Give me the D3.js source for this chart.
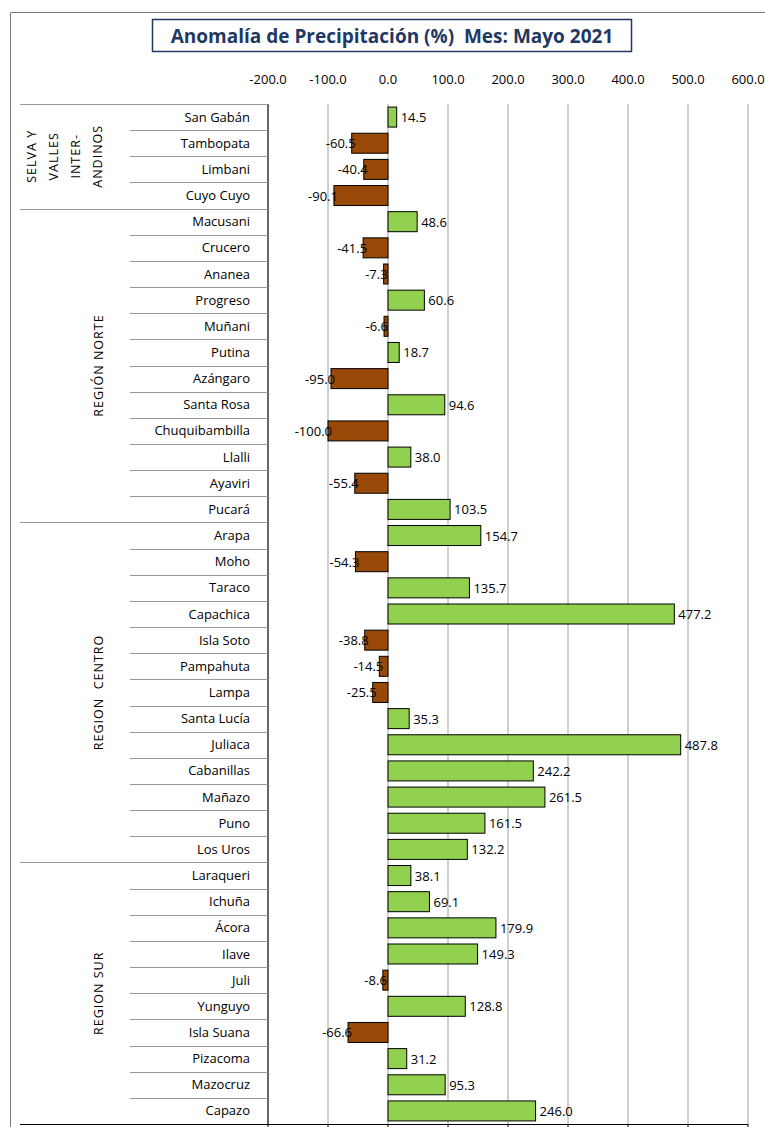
<!DOCTYPE html>
<html><head><meta charset="utf-8">
<script src="https://cdn.jsdelivr.net/npm/d3@7"></script>
<style>body{margin:0;background:#fff}</style>
</head><body>
<svg id="Viz"></svg>
<script>
width = 765, height = 1127;

stations = ["San Gabán","Tambopata","Limbani","Cuyo Cuyo","Macusani","Crucero","Ananea","Progreso","Muñani","Putina","Azángaro","Santa Rosa","Chuquibambilla","Llalli","Ayaviri","Pucará","Arapa","Moho","Taraco","Capachica","Isla Soto","Pampahuta","Lampa","Santa Lucía","Juliaca","Cabanillas","Mañazo","Puno","Los Uros","Laraqueri","Ichuña","Ácora","Ilave","Juli","Yunguyo","Isla Suana","Pizacoma","Mazocruz","Capazo"];
anomaly = [14.5,-60.5,-40.4,-90.1,48.6,-41.5,-7.3,60.6,-6.6,18.7,-95.0,94.6,-100.0,38.0,-55.4,103.5,154.7,-54.3,135.7,477.2,-38.8,-14.5,-25.5,35.3,487.8,242.2,261.5,161.5,132.2,38.1,69.1,179.9,149.3,-8.6,128.8,-66.6,31.2,95.3,246.0];
groups = [
  {name:["SELVA Y","VALLES","INTER-","ANDINOS"], n:4},
  {name:["REGIÓN NORTE"], n:12},
  {name:["REGION  CENTRO"], n:13},
  {name:["REGION SUR"], n:10}
];
ticks = [-200,-100,0,100,200,300,400,500,600];

var svg = d3.select("#Viz").attr("width", width).attr("height", height)
  .style("font-family", "'Open Sans', 'Liberation Sans', sans-serif");

var x = d3.scaleLinear().domain([-200, 600]).range([268, 748]);
var y = d3.scaleBand().domain(d3.range(stations.length)).range([104, 1124]);
var bh = 20;

// outer frame
svg.append("path").attr("d", "M10.5,1127 V12.5 H765")
  .attr("fill", "none").attr("stroke", "#777");

// title
svg.append("rect").attr("x", 152.5).attr("y", 19.5).attr("width", 479).attr("height", 32)
  .attr("fill", "#fff").attr("stroke", "#1f3864").attr("stroke-width", 1.5);
svg.append("text").attr("x", 392).attr("y", 43).attr("text-anchor", "middle")
  .attr("font-size", 19).attr("font-weight", "bold").attr("fill", "#1f3864")
  .attr("xml:space", "preserve")
  .text("Anomalía de Precipitación (%)  Mes: Mayo 2021");

// tick labels
svg.append("g").selectAll("text").data(ticks).enter().append("text")
  .attr("x", d => x(d)).attr("y", 84).attr("text-anchor", "middle")
  .attr("font-size", 13).text(d => d.toFixed(1));

// grid
svg.append("g").selectAll("line").data(ticks).enter().append("line")
  .attr("x1", d => x(d)).attr("x2", d => x(d)).attr("y1", 104).attr("y2", 1124)
  .attr("stroke", d => d == -200 ? "#000" : "#888").attr("stroke-width", d => d == -200 ? 1.2 : 0.8);
svg.append("g").selectAll("line").data(ticks).enter().append("line")
  .attr("x1", d => x(d)).attr("x2", d => x(d)).attr("y1", 1124).attr("y2", 1130)
  .attr("stroke", "#000");
svg.append("line").attr("x1", 20).attr("x2", 748).attr("y1", 1124.5).attr("y2", 1124.5).attr("stroke", "#000");

// row separators
var starts = [0]; groups.forEach((g, i) => starts.push(starts[i] + g.n));
svg.append("g").selectAll("line").data(d3.range(stations.length)).enter().append("line")
  .attr("x1", d => starts.includes(d) ? 20 : 130).attr("x2", 268)
  .attr("y1", d => Math.round(y(d)) + 0.5).attr("y2", d => Math.round(y(d)) + 0.5)
  .attr("stroke", "#999");

// station labels
svg.append("g").selectAll("text").data(stations).enter().append("text")
  .attr("x", 250).attr("y", (d, i) => y(i) + y.bandwidth() / 2 + 4.5)
  .attr("text-anchor", "end").attr("font-size", 13).text(d => d);

// group labels
groups.forEach((g, i) => {
  var cy = (y(starts[i]) + y(starts[i] + g.n - 1) + y.bandwidth()) / 2;
  var lines = g.name;
  var x0 = lines.length > 1 ? 36 : 103;
  lines.forEach((t, j) => {
    svg.append("text").attr("transform", "translate(" + (x0 + j * 22) + "," + cy + ") rotate(-90)")
      .attr("text-anchor", "middle").attr("font-size", 12.5).attr("letter-spacing", 1)
      .attr("xml:space", "preserve").text(t);
  });
});

// bars
svg.append("g").selectAll("rect").data(anomaly).enter().append("rect")
  .attr("x", d => x(Math.min(0, d))).attr("width", d => Math.abs(x(d) - x(0)))
  .attr("y", (d, i) => y(i) + (y.bandwidth() - bh) / 2).attr("height", bh)
  .attr("fill", d => d >= 0 ? "#92d050" : "#984807").attr("stroke", "#000").attr("stroke-width", 1);

// values
svg.append("g").selectAll("text").data(anomaly).enter().append("text")
  .attr("x", d => d >= 0 ? x(d) + 4 : x(d) + 4)
  .attr("y", (d, i) => y(i) + y.bandwidth() / 2 + 5)
  .attr("text-anchor", d => d >= 0 ? "start" : "end")
  .attr("font-size", 13).text(d => d.toFixed(1));
</script>
</body></html>
